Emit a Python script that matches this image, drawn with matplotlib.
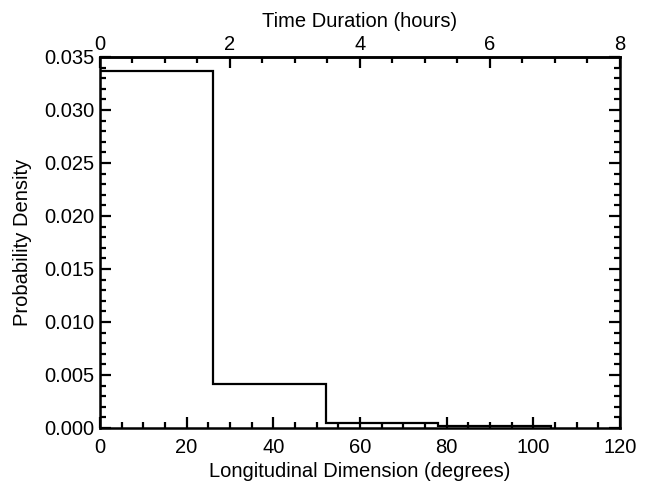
import numpy as np
import matplotlib
matplotlib.use("Agg")
import matplotlib.pyplot as plt
from matplotlib.ticker import MultipleLocator, FormatStrFormatter

plt.rcParams['font.family'] = ['Liberation Sans', 'DejaVu Sans']

# histogram (degrees, density)
bin_edges = [0.0, 26.0, 52.1, 78.1, 104.2]
density = [0.0337, 0.0041, 0.0005, 0.0002]

# top axis: hours, 15 degrees per hour
hour_ticks = [0, 2, 4, 6, 8]
hour_minor = [0.5, 1, 1.5, 2.5, 3, 3.5, 4.5, 5, 5.5, 6.5, 7, 7.5]
DEG_PER_HOUR = 15.0
FS = 14.5

fig = plt.figure(figsize=(6.45, 4.83), dpi=100)
ax = fig.add_axes([0.155, 0.114, 0.806, 0.768])

ax.stairs(density, bin_edges, color='black', linewidth=1.6, baseline=0)

ax.set_xlim(0, 120)
ax.set_ylim(0, 0.035)
ax.xaxis.set_major_locator(MultipleLocator(20))
ax.xaxis.set_minor_locator(MultipleLocator(5))
ax.yaxis.set_major_locator(MultipleLocator(0.005))
ax.yaxis.set_minor_locator(MultipleLocator(0.001))
ax.yaxis.set_major_formatter(FormatStrFormatter('%.3f'))

ax.tick_params(which='both', direction='in', width=1.6, labelsize=FS,
               top=False, right=True, bottom=True, left=True)
ax.tick_params(which='major', length=8)
ax.tick_params(which='minor', length=4)
ax.tick_params(axis='x', pad=7)
ax.tick_params(axis='y', pad=4)
for s in ax.spines.values():
    s.set_linewidth(1.8)

ax.set_xlabel('Longitudinal Dimension (degrees)', fontsize=FS, labelpad=4)
ax.set_ylabel('Probability Density', fontsize=FS, labelpad=9)

top = ax.secondary_xaxis('top', functions=(lambda d: d / DEG_PER_HOUR,
                                           lambda h: h * DEG_PER_HOUR))
top.set_xticks(hour_ticks)
top.set_xticklabels([str(h) for h in hour_ticks])
top.set_xticks(hour_minor, minor=True)
top.tick_params(which='both', direction='in', width=1.6, labelsize=FS, pad=2)
top.tick_params(which='major', length=8)
top.tick_params(which='minor', length=4)
top.spines['top'].set_linewidth(1.8)
top.set_xlabel('Time Duration (hours)', fontsize=FS, labelpad=6)

fig.savefig('out.png', dpi=100)
